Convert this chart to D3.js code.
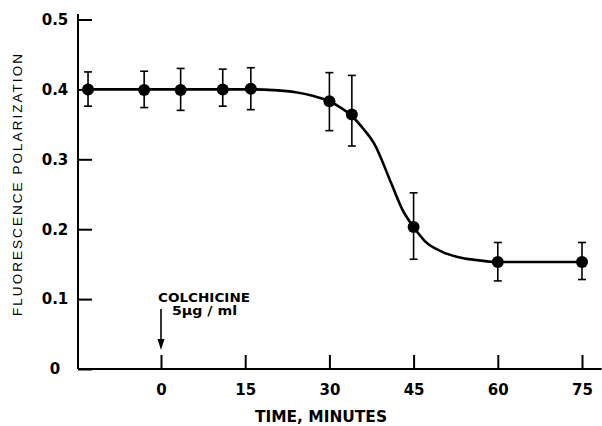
<!DOCTYPE html>
<html><head><meta charset="utf-8">
<script src="https://cdn.jsdelivr.net/npm/d3@7"></script>
<style>body{margin:0;background:#fff} svg{display:block}</style>
</head><body>
<script>
// ---- data ----
const times   = [-13, -3, 3.5, 11, 16, 30, 34, 45, 60, 75];
const means   = [0.400, 0.399, 0.399, 0.400, 0.401, 0.383, 0.364, 0.203, 0.153, 0.153];
const errUp   = [0.025, 0.027, 0.031, 0.029, 0.030, 0.041, 0.056, 0.049, 0.028, 0.028];
const errDown = [0.024, 0.025, 0.029, 0.024, 0.030, 0.042, 0.045, 0.046, 0.027, 0.025];
// smooth fitted curve
const fitTimes  = [-13, 10, 16, 20, 24, 27, 30, 32, 34, 36, 38, 41, 43, 45, 47, 50, 53, 56, 60, 75];
const fitValues = [0.400, 0.400, 0.400, 0.399, 0.396, 0.391, 0.383, 0.374, 0.362, 0.344, 0.322, 0.266, 0.228, 0.203, 0.183, 0.168, 0.160, 0.156, 0.153, 0.153];
const xTicks = [0, 15, 30, 45, 60, 75];
const xTickLabels = ["0", "15", "30", "45", "60", "75"];
const yTicks = [0, 0.1, 0.2, 0.3, 0.4, 0.5];
const yTickLabels = ["0", "0.1", "0.2", "0.3", "0.4", "0.5"];
const xTitle = "TIME, MINUTES";
const yTitle = "FLUORESCENCE POLARIZATION";
const noteLines = ["COLCHICINE", "5\u00b5g / ml"];
const noteTime = 0;

// ---- drawing ----
const W = 602, H = 426;
const svg = d3.select("body").append("svg").attr("width", W).attr("height", H);
const x = d3.scaleLinear().domain([0, 75]).range([161, 582]);
const y = d3.scaleLinear().domain([0, 0.5]).range([369, 19.5]);
const axisX = 78, axisY = y(0);
const boldFont = "'DejaVu Sans', sans-serif";

// axis lines
svg.append("line").attr("x1", axisX).attr("x2", axisX).attr("y1", axisY).attr("y2", y(0.508))
  .attr("stroke", "#000").attr("stroke-width", 2);
svg.append("line").attr("x1", axisX).attr("x2", x(78.5)).attr("y1", axisY).attr("y2", axisY)
  .attr("stroke", "#000").attr("stroke-width", 2);

// y axis ticks
const gy = svg.append("g").attr("transform", `translate(${axisX},0)`)
  .call(d3.axisLeft(y).tickValues(yTicks).tickSizeInner(-14).tickSizeOuter(0)
    .tickFormat((d, i) => yTickLabels[i]));
gy.select(".domain").remove();
gy.selectAll(".tick line").attr("stroke", "#000").attr("stroke-width", 2);
gy.selectAll(".tick text").attr("x", -23).attr("text-anchor", "middle")
  .attr("font-family", boldFont).attr("font-weight", "bold").attr("font-size", 15).attr("fill", "#000");

// x axis ticks
const gx = svg.append("g").attr("transform", `translate(0,${axisY})`)
  .call(d3.axisBottom(x).tickValues(xTicks).tickSizeInner(-14).tickSizeOuter(0).tickPadding(15)
    .tickFormat((d, i) => xTickLabels[i]));
gx.select(".domain").remove();
gx.selectAll(".tick line").attr("stroke", "#000").attr("stroke-width", 2);
gx.selectAll(".tick text").attr("font-family", boldFont).attr("font-weight", "bold")
  .attr("font-size", 15).attr("fill", "#000");

// titles
svg.append("text").attr("x", 321).attr("y", 422).attr("text-anchor", "middle")
  .attr("font-family", boldFont).attr("font-weight", "bold").attr("font-size", 16)
  .attr("textLength", 132).attr("lengthAdjust", "spacingAndGlyphs").text(xTitle);
svg.append("text").attr("transform", "translate(22,185) rotate(-90)").attr("text-anchor", "middle")
  .attr("font-family", "'Liberation Sans', Arial, sans-serif").attr("font-size", 13.5)
  .attr("textLength", 262).attr("lengthAdjust", "spacing").text(yTitle);

// fitted curve
const fit = fitTimes.map((t, i) => [t, fitValues[i]]);
svg.append("path").datum(fit)
  .attr("d", d3.line().x(d => x(d[0])).y(d => y(d[1])).curve(d3.curveMonotoneX))
  .attr("fill", "none").attr("stroke", "#000").attr("stroke-width", 2.6);

// error bars
const pts = times.map((t, i) => ({t, m: means[i], up: errUp[i], dn: errDown[i]}));
const eb = svg.append("g").attr("stroke", "#000").attr("stroke-width", 1.6);
pts.forEach(p => {
  const cx = x(p.t), yt = y(p.m + p.up), yb = y(p.m - p.dn);
  eb.append("line").attr("x1", cx).attr("x2", cx).attr("y1", yt).attr("y2", yb);
  eb.append("line").attr("x1", cx - 4).attr("x2", cx + 4).attr("y1", yt).attr("y2", yt);
  eb.append("line").attr("x1", cx - 4).attr("x2", cx + 4).attr("y1", yb).attr("y2", yb);
});
// points
svg.append("g").selectAll("circle").data(pts).join("circle")
  .attr("cx", d => x(d.t)).attr("cy", d => y(d.m)).attr("r", 6).attr("fill", "#000");

// annotation
const ax = x(noteTime);
svg.append("text").attr("x", ax - 3).attr("y", 302)
  .attr("font-family", boldFont).attr("font-weight", "bold").attr("font-size", 12.5)
  .attr("textLength", 92).attr("lengthAdjust", "spacingAndGlyphs").text(noteLines[0]);
svg.append("text").attr("x", ax + 11).attr("y", 314.5)
  .attr("font-family", boldFont).attr("font-weight", "bold").attr("font-size", 12)
  .attr("textLength", 65).attr("lengthAdjust", "spacingAndGlyphs").text(noteLines[1]);
svg.append("line").attr("x1", ax).attr("x2", ax).attr("y1", 309).attr("y2", 342)
  .attr("stroke", "#000").attr("stroke-width", 1.6);
svg.append("path").attr("d", `M${ax - 3.5},${339} L${ax + 3.5},${339} L${ax},${350} Z`).attr("fill", "#000");
</script>
</body></html>
